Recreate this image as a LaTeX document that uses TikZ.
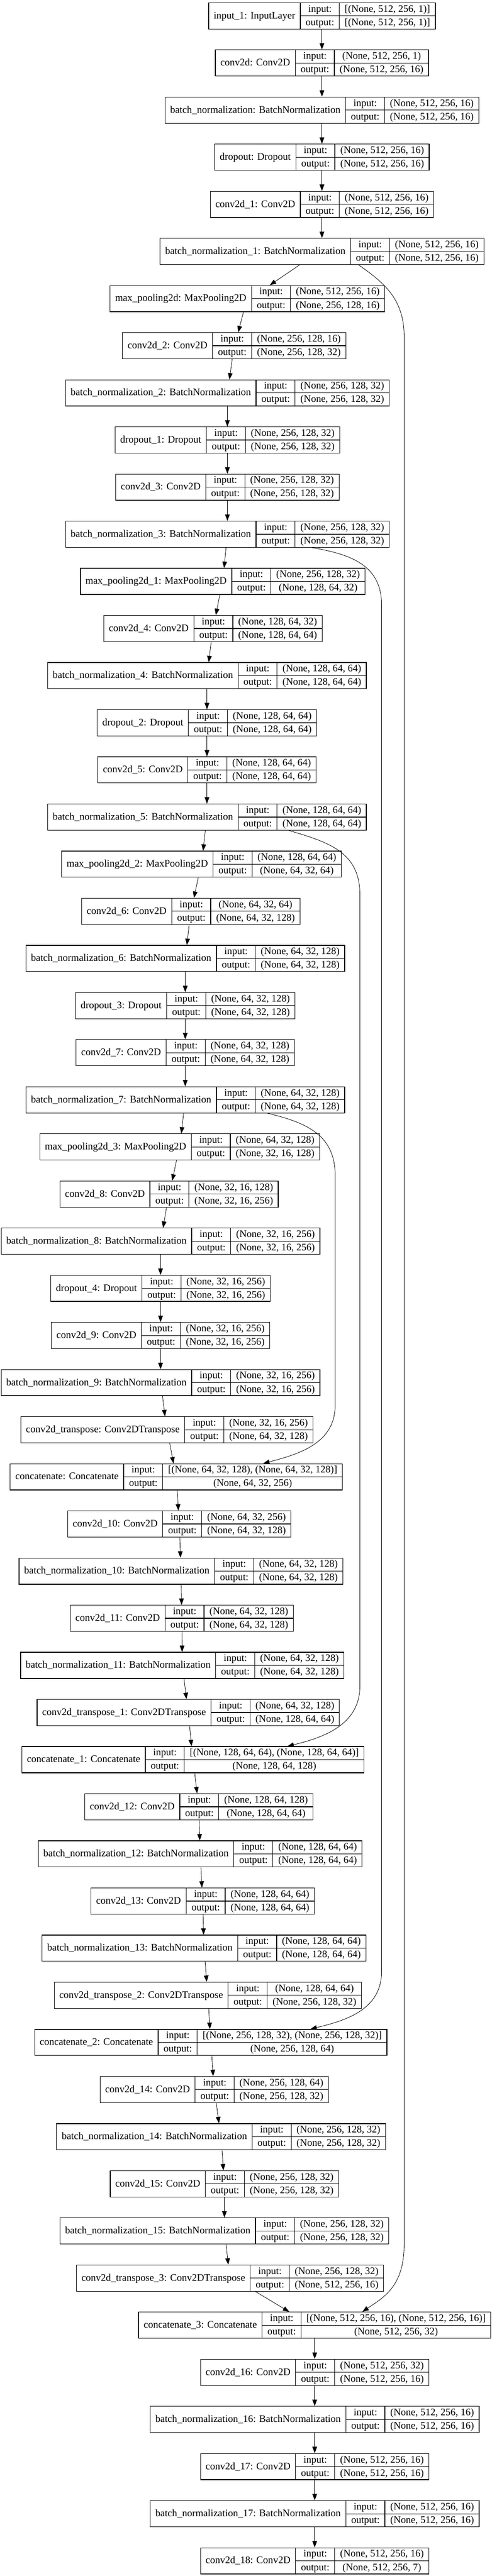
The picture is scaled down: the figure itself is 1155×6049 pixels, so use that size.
\documentclass[tikz,border=0pt]{standalone}
\usepackage{fontspec}
\setmainfont{Liberation Serif}
\usetikzlibrary{arrows.meta,calc}
\setlength{\arrayrulewidth}{1.5pt}

\newcommand{\rowstrut}{\rule[-8.5pt]{0pt}{30pt}}
\newcommand{\onecell}[1]{\begin{tabular}{@{\hspace{12pt}}c@{\hspace{12pt}}}\rowstrut#1\end{tabular}}
\newcommand{\twocell}[2]{\begin{tabular}{@{\hspace{12pt}}c@{\hspace{12pt}}}\rowstrut#1\\\hline\rowstrut#2\end{tabular}}
% one layer record: name, x, row, label, input shape, output shape
\newcommand{\klayer}[6]{\node[record] (#1) at (#2,{5.7+(#3-1)*110.67})
  {\begin{tabular}{@{}c@{}|@{}c@{}|@{}c@{}}\onecell{#4} & \twocell{input:}{output:} & \twocell{#5}{#6}\end{tabular}};}
\newcommand{\flowto}[2]{\draw[flow] ($(#1.south)!.3!(#1.south-|#2.north)$) -- ($(#2.north)!.3!(#2.north-|#1.south)$);}

\begin{document}
\begin{tikzpicture}[x=1pt, y=-1pt, >={Stealth[inset=0pt,length=15pt,width=11pt]},
    record/.style={draw, line width=1.5pt, inner sep=0pt, anchor=north, font=\fontsize{23.6}{28.3}\selectfont},
    flow/.style={->, line width=1pt}]
    \useasboundingbox (0,0) rectangle (1155,6049);

    % Encoder
    \klayer{inp}{756}{1}{input\_1: InputLayer}{[(None, 512, 256, 1)]}{[(None, 512, 256, 1)]}
    \klayer{c0}{756}{2}{conv2d: Conv2D}{(None, 512, 256, 1)}{(None, 512, 256, 16)}
    \klayer{bn0}{756}{3}{batch\_normalization: BatchNormalization}{(None, 512, 256, 16)}{(None, 512, 256, 16)}
    \klayer{dr0}{756}{4}{dropout: Dropout}{(None, 512, 256, 16)}{(None, 512, 256, 16)}
    \klayer{c1}{756}{5}{conv2d\_1: Conv2D}{(None, 512, 256, 16)}{(None, 512, 256, 16)}
    \klayer{bn1}{756}{6}{batch\_normalization\_1: BatchNormalization}{(None, 512, 256, 16)}{(None, 512, 256, 16)}
    \klayer{mp0}{581}{7}{max\_pooling2d: MaxPooling2D}{(None, 512, 256, 16)}{(None, 256, 128, 16)}
    \klayer{c2}{550}{8}{conv2d\_2: Conv2D}{(None, 256, 128, 16)}{(None, 256, 128, 32)}
    \klayer{bn2}{534}{9}{batch\_normalization\_2: BatchNormalization}{(None, 256, 128, 32)}{(None, 256, 128, 32)}
    \klayer{dr1}{534}{10}{dropout\_1: Dropout}{(None, 256, 128, 32)}{(None, 256, 128, 32)}
    \klayer{c3}{534}{11}{conv2d\_3: Conv2D}{(None, 256, 128, 32)}{(None, 256, 128, 32)}
    \klayer{bn3}{534}{12}{batch\_normalization\_3: BatchNormalization}{(None, 256, 128, 32)}{(None, 256, 128, 32)}
    \klayer{mp1}{523}{13}{max\_pooling2d\_1: MaxPooling2D}{(None, 256, 128, 32)}{(None, 128, 64, 32)}
    \klayer{c4}{500}{14}{conv2d\_4: Conv2D}{(None, 128, 64, 32)}{(None, 128, 64, 64)}
    \klayer{bn4}{486}{15}{batch\_normalization\_4: BatchNormalization}{(None, 128, 64, 64)}{(None, 128, 64, 64)}
    \klayer{dr2}{486}{16}{dropout\_2: Dropout}{(None, 128, 64, 64)}{(None, 128, 64, 64)}
    \klayer{c5}{486}{17}{conv2d\_5: Conv2D}{(None, 128, 64, 64)}{(None, 128, 64, 64)}
    \klayer{bn5}{486}{18}{batch\_normalization\_5: BatchNormalization}{(None, 128, 64, 64)}{(None, 128, 64, 64)}
    \klayer{mp2}{473}{19}{max\_pooling2d\_2: MaxPooling2D}{(None, 128, 64, 64)}{(None, 64, 32, 64)}
    \klayer{c6}{448}{20}{conv2d\_6: Conv2D}{(None, 64, 32, 64)}{(None, 64, 32, 128)}
    \klayer{bn6}{435}{21}{batch\_normalization\_6: BatchNormalization}{(None, 64, 32, 128)}{(None, 64, 32, 128)}
    \klayer{dr3}{435}{22}{dropout\_3: Dropout}{(None, 64, 32, 128)}{(None, 64, 32, 128)}
    \klayer{c7}{435}{23}{conv2d\_7: Conv2D}{(None, 64, 32, 128)}{(None, 64, 32, 128)}
    \klayer{bn7}{435}{24}{batch\_normalization\_7: BatchNormalization}{(None, 64, 32, 128)}{(None, 64, 32, 128)}
    \klayer{mp3}{422}{25}{max\_pooling2d\_3: MaxPooling2D}{(None, 64, 32, 128)}{(None, 32, 16, 128)}

    % Bottleneck
    \klayer{c8}{397}{26}{conv2d\_8: Conv2D}{(None, 32, 16, 128)}{(None, 32, 16, 256)}
    \klayer{bn8}{377}{27}{batch\_normalization\_8: BatchNormalization}{(None, 32, 16, 256)}{(None, 32, 16, 256)}
    \klayer{dr4}{377}{28}{dropout\_4: Dropout}{(None, 32, 16, 256)}{(None, 32, 16, 256)}
    \klayer{c9}{377}{29}{conv2d\_9: Conv2D}{(None, 32, 16, 256)}{(None, 32, 16, 256)}
    \klayer{bn9}{377}{30}{batch\_normalization\_9: BatchNormalization}{(None, 32, 16, 256)}{(None, 32, 16, 256)}

    % Decoder
    \klayer{up0}{392}{31}{conv2d\_transpose: Conv2DTranspose}{(None, 32, 16, 256)}{(None, 64, 32, 128)}
    \klayer{cat0}{414}{32}{concatenate: Concatenate}{[(None, 64, 32, 128), (None, 64, 32, 128)]}{(None, 64, 32, 256)}
    \klayer{c10}{421}{33}{conv2d\_10: Conv2D}{(None, 64, 32, 256)}{(None, 64, 32, 128)}
    \klayer{bn10}{425}{34}{batch\_normalization\_10: BatchNormalization}{(None, 64, 32, 128)}{(None, 64, 32, 128)}
    \klayer{c11}{427}{35}{conv2d\_11: Conv2D}{(None, 64, 32, 128)}{(None, 64, 32, 128)}
    \klayer{bn11}{428}{36}{batch\_normalization\_11: BatchNormalization}{(None, 64, 32, 128)}{(None, 64, 32, 128)}
    \klayer{up1}{442}{37}{conv2d\_transpose\_1: Conv2DTranspose}{(None, 64, 32, 128)}{(None, 128, 64, 64)}
    \klayer{cat1}{453}{38}{concatenate\_1: Concatenate}{[(None, 128, 64, 64), (None, 128, 64, 64)]}{(None, 128, 64, 128)}
    \klayer{c12}{467}{39}{conv2d\_12: Conv2D}{(None, 128, 64, 128)}{(None, 128, 64, 64)}
    \klayer{bn12}{470}{40}{batch\_normalization\_12: BatchNormalization}{(None, 128, 64, 64)}{(None, 128, 64, 64)}
    \klayer{c13}{476}{41}{conv2d\_13: Conv2D}{(None, 128, 64, 64)}{(None, 128, 64, 64)}
    \klayer{bn13}{479}{42}{batch\_normalization\_13: BatchNormalization}{(None, 128, 64, 64)}{(None, 128, 64, 64)}
    \klayer{up2}{488}{43}{conv2d\_transpose\_2: Conv2DTranspose}{(None, 128, 64, 64)}{(None, 256, 128, 32)}
    \klayer{cat2}{495}{44}{concatenate\_2: Concatenate}{[(None, 256, 128, 32), (None, 256, 128, 32)]}{(None, 256, 128, 64)}
    \klayer{c14}{503}{45}{conv2d\_14: Conv2D}{(None, 256, 128, 64)}{(None, 256, 128, 32)}
    \klayer{bn14}{519}{46}{batch\_normalization\_14: BatchNormalization}{(None, 256, 128, 32)}{(None, 256, 128, 32)}
    \klayer{c15}{527}{47}{conv2d\_15: Conv2D}{(None, 256, 128, 32)}{(None, 256, 128, 32)}
    \klayer{bn15}{527}{48}{batch\_normalization\_15: BatchNormalization}{(None, 256, 128, 32)}{(None, 256, 128, 32)}
    \klayer{up3}{540}{49}{conv2d\_transpose\_3: Conv2DTranspose}{(None, 256, 128, 32)}{(None, 512, 256, 16)}
    \klayer{cat3}{739}{50}{concatenate\_3: Concatenate}{[(None, 512, 256, 16), (None, 512, 256, 16)]}{(None, 512, 256, 32)}
    \klayer{c16}{739}{51}{conv2d\_16: Conv2D}{(None, 512, 256, 32)}{(None, 512, 256, 16)}
    \klayer{bn16}{739}{52}{batch\_normalization\_16: BatchNormalization}{(None, 512, 256, 16)}{(None, 512, 256, 16)}
    \klayer{c17}{739}{53}{conv2d\_17: Conv2D}{(None, 512, 256, 16)}{(None, 512, 256, 16)}
    \klayer{bn17}{739}{54}{batch\_normalization\_17: BatchNormalization}{(None, 512, 256, 16)}{(None, 512, 256, 16)}
    \klayer{c18}{739}{55}{conv2d\_18: Conv2D}{(None, 512, 256, 16)}{(None, 512, 256, 7)}

    % Main flow
    \flowto{inp}{c0} \flowto{c0}{bn0} \flowto{bn0}{dr0} \flowto{dr0}{c1} \flowto{c1}{bn1}
    \flowto{bn1}{mp0} \flowto{mp0}{c2} \flowto{c2}{bn2} \flowto{bn2}{dr1} \flowto{dr1}{c3} \flowto{c3}{bn3}
    \flowto{bn3}{mp1} \flowto{mp1}{c4} \flowto{c4}{bn4} \flowto{bn4}{dr2} \flowto{dr2}{c5} \flowto{c5}{bn5}
    \flowto{bn5}{mp2} \flowto{mp2}{c6} \flowto{c6}{bn6} \flowto{bn6}{dr3} \flowto{dr3}{c7} \flowto{c7}{bn7}
    \flowto{bn7}{mp3} \flowto{mp3}{c8} \flowto{c8}{bn8} \flowto{bn8}{dr4} \flowto{dr4}{c9} \flowto{c9}{bn9}
    \flowto{bn9}{up0} \flowto{up0}{cat0} \flowto{cat0}{c10} \flowto{c10}{bn10} \flowto{bn10}{c11} \flowto{c11}{bn11}
    \flowto{bn11}{up1} \flowto{up1}{cat1} \flowto{cat1}{c12} \flowto{c12}{bn12} \flowto{bn12}{c13} \flowto{c13}{bn13}
    \flowto{bn13}{up2} \flowto{up2}{cat2} \flowto{cat2}{c14} \flowto{c14}{bn14} \flowto{bn14}{c15} \flowto{c15}{bn15}
    \flowto{bn15}{up3} \flowto{up3}{cat3} \flowto{cat3}{c16} \flowto{c16}{bn16} \flowto{bn16}{c17} \flowto{c17}{bn17}
    \flowto{bn17}{c18}

    % Skip connections
    \draw[flow] ($(bn1.south)+(86,0)$) .. controls ($(bn1.south)+(143,40)$) and (949,700) .. (949,790)
        -- (949,5270) .. controls (949,5370) and (900,5395) .. ($(cat3.north)+(112,0)$);
    \draw[flow] ($(bn3.south)+(199,0)$) .. controls ($(bn3.south)+(286,15)$) and (896,1325) .. (896,1420)
        -- (896,4630) .. controls (896,4720) and (810,4745) .. ($(cat2.north)+(234,0)$);
    \draw[flow] ($(bn5.south)+(192,0)$) .. controls ($(bn5.south)+(284,27)$) and (845,2000) .. (845,2100)
        -- (845,3960) .. controls (845,4050) and (760,4080) .. ($(cat1.north)+(222,0)$);
    \draw[flow] ($(bn7.south)+(193,0)$) .. controls ($(bn7.south)+(285,22)$) and (787,2665) .. (787,2760)
        -- (787,3300) .. controls (787,3390) and (700,3415) .. ($(cat0.north)+(204,0)$);
\end{tikzpicture}
\end{document}
